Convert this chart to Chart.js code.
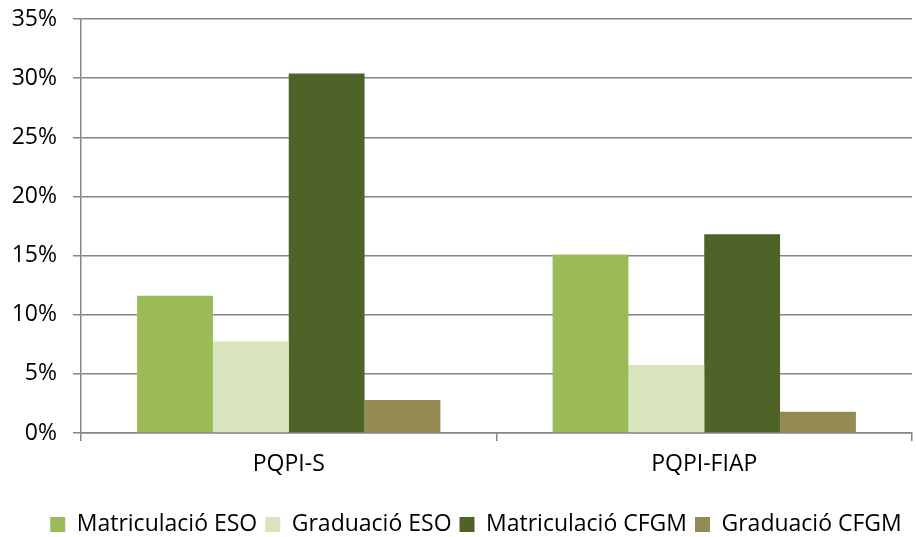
<!DOCTYPE html>
<html><head><meta charset="utf-8">
<script src="https://cdn.jsdelivr.net/npm/chart.js@4/dist/chart.umd.min.js"></script>
<style>html,body{margin:0;padding:0;background:#fff}#w{width:916px;height:537px}</style>
</head><body><div id="w"><canvas id="c"></canvas></div>
<script>
const categories = ["PQPI-S", "PQPI-FIAP"];
const seriesNames = ["Matriculació ESO", "Graduació ESO", "Matriculació CFGM", "Graduació CFGM"];
const matriculacioESO = [11.6, 15.1];
const graduacioESO = [7.75, 5.75];
const matriculacioCFGM = [30.4, 16.8];
const graduacioCFGM = [2.8, 1.8];
const yTicks = [0, 5, 10, 15, 20, 25, 30, 35];
const colors = ["#9BBB59", "#D7E4BD", "#4F6228", "#948A54"];
const values = [matriculacioESO, graduacioESO, matriculacioCFGM, graduacioCFGM];

const font = "Open Sans, sans-serif";
const shiftLegend = {
  id: "shiftLegend",
  afterLayout(chart) { if (chart.legend) { chart.legend.left += 20; chart.legend.right += 20; } }
};
new Chart(document.getElementById("c"), {
  type: "bar",
  data: {
    labels: categories,
    datasets: seriesNames.map((n, i) => ({
      label: n, data: values[i], backgroundColor: colors[i], borderWidth: 0
    }))
  },
  plugins: [shiftLegend],
  options: {
    responsive: true, maintainAspectRatio: false, animation: false,
    layout: { padding: { top: 19, right: 4, left: 0, bottom: -9 } },
    datasets: { bar: { categoryPercentage: 0.73, barPercentage: 1 } },
    plugins: {
      tooltip: { enabled: false },
      legend: {
        position: "bottom",
        labels: { boxWidth: 15, boxHeight: 15, color: "#000", padding: 8,
          font: { family: font, size: 23 } }
      }
    },
    scales: {
      x: {
        afterFit: s => { s.height = 72; },
        grid: { display: true, offset: true, drawOnChartArea: false, color: "#868686", tickLength: 8, lineWidth: 1.5 },
        border: { color: "#868686", width: 1.5 },
        ticks: { color: "#000", font: { family: font, size: 23 }, padding: 10 }
      },
      y: {
        min: 0, max: 35,
        afterFit: s => { s.width = 81; s.paddingTop = 8; s.paddingBottom = 8; },
        afterBuildTicks: (s) => { s.ticks = yTicks.map(v => ({ value: v })); },
        grid: { color: "#868686", tickLength: 8, lineWidth: 1.5 },
        border: { color: "#868686", width: 1.5 },
        ticks: { color: "#000", font: { family: font, size: 23 }, padding: 16,
          callback: v => v + "%" }
      }
    }
  }
});
</script></body></html>
